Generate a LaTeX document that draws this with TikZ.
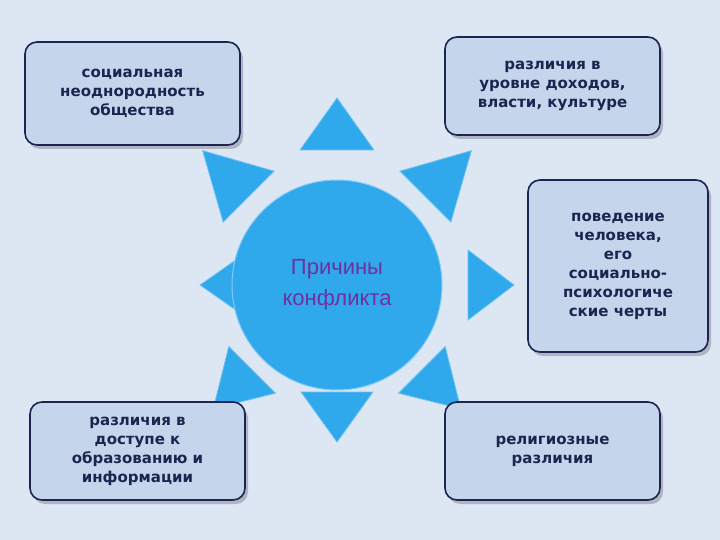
\documentclass[tikz,border=0pt]{standalone}
\usepackage{fontspec}
\setmainfont{DejaVu Sans}
\newfontfamily\centerfont{Liberation Sans}
\definecolor{bg}{HTML}{DCE7F3}
\definecolor{sun}{HTML}{2FA8EC}
\definecolor{boxf}{HTML}{C5D5EB}
\definecolor{navy}{HTML}{1C2550}
\definecolor{purp}{HTML}{7030A0}
\begin{document}
\begin{tikzpicture}[x=1pt,y=-1pt,
  cbox/.style={draw=navy,line width=1.6pt,fill=boxf,rounded corners=12pt,align=center,
    font=\bfseries\fontsize{15}{19}\selectfont,text=navy,inner sep=4pt},
  tri/.style={fill=sun,draw=sun!70!white,line width=0.8pt}]
\fill[bg] (0,0) rectangle (720,540);
\useasboundingbox (0,0) rectangle (720,540);
\coordinate (c) at (337,285);
\foreach \t/\a/\b/\w in {90/187/135/37, -90/157/107/36, 180/137/87/35, 0/177/131/35,
   135/190/125/36, 45/190/125/36, -135/175/120/33, -45/175/120/33}{
  \begin{scope}[shift={(c)},rotate=\t]
    \draw[tri] (\a,0)--(\b,\w)--(\b,-\w)--cycle;
  \end{scope}}
\node[circle,fill=sun,draw=sun!60!white,line width=1pt,minimum size=210pt,text=purp,align=center,
  font=\centerfont\fontsize{22}{31}\selectfont] (sunc) at (c) {Причины\\конфликта};
\foreach \n/\x/\y/\bw/\bh/\txt in {
  b1/25/42/215/103/{социальная\\неоднородность\\общества},
  b2/445/37/215/98/{различия в\\уровне доходов,\\власти, культуре},
  b3/528/180/180/172/{поведение\\человека,\\его\\социально-\\психологиче\\ские черты},
  b4/30/402/215/98/{различия в\\доступе к\\образованию и\\информации},
  b5/445/402/215/98/{религиозные\\различия}}{
  \fill[navy!35,rounded corners=12pt] (\x+3,\y+4) rectangle ++(\bw,\bh);
  \node[cbox,minimum width=\bw pt,minimum height=\bh pt] (\n) at (\x+\bw/2,\y+\bh/2) {\txt};
}
\end{tikzpicture}
\end{document}
